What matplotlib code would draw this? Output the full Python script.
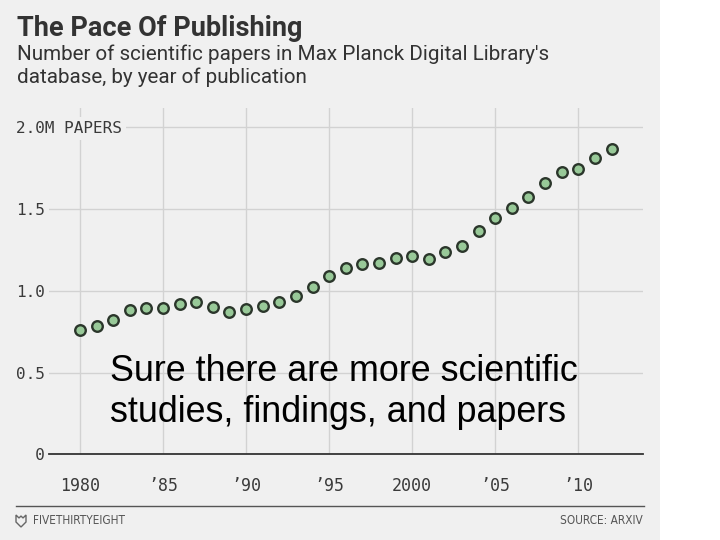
#!/usr/bin/env python3
"""Recreate the FiveThirtyEight 'The Pace Of Publishing' dot chart."""

import matplotlib
matplotlib.use("Agg")
import matplotlib.pyplot as plt
from matplotlib.patches import Rectangle, Polygon

W, H = 720, 540

# data: papers per year (millions)
years = list(range(1980, 2013))
papers_m = [0.762, 0.784, 0.819, 0.882, 0.898, 0.898, 0.918, 0.929, 0.904, 0.868,
            0.886, 0.906, 0.930, 0.969, 1.022, 1.089, 1.142, 1.166, 1.171, 1.199,
            1.215, 1.197, 1.240, 1.276, 1.363, 1.445, 1.506, 1.575, 1.662, 1.726,
            1.746, 1.815, 1.866]

x_ticks = [1980, 1985, 1990, 1995, 2000, 2005, 2010]
x_labels = ["1980", "\u201985", "\u201990", "\u201995", "2000", "\u201905", "\u201910"]
y_ticks = [0, 0.5, 1.0, 1.5, 2.0]
y_labels = ["  0", "0.5", "1.0", "1.5", "2.0M PAPERS"]

BG = "#f0f0f0"
TXT = "#3a3a3a"
GRID = "#d2d2d2"


def fx(px):
    return px / W


def fy(py):
    return 1 - py / H


fig = plt.figure(figsize=(7.2, 5.4), dpi=100, facecolor="white")
fig.patches.append(Rectangle((0, 0), fx(660), 1, transform=fig.transFigure,
                             facecolor=BG, edgecolor="none", zorder=-5))

ax = fig.add_axes([fx(49), fy(454.4), fx(643) - fx(49), fy(108) - fy(454.4)])
ax.set_facecolor(BG)
for s in ax.spines.values():
    s.set_visible(False)

ax.plot(years, papers_m, linestyle="none", marker="o", markersize=7.6,
        markerfacecolor="#98c998", markeredgecolor="#2b362b", markeredgewidth=1.7,
        zorder=4, clip_on=False)

ax.set_xlim(1978.134, 2013.895)
ax.set_ylim(0, 2.118)
ax.set_xticks(x_ticks)
ax.set_xticklabels(x_labels)
ax.set_yticks(y_ticks)
ax.set_yticklabels(y_labels)
ax.grid(True, color=GRID, linewidth=1.0)
ax.tick_params(length=0)
ax.tick_params(axis="x", pad=16, labelsize=12, labelcolor=TXT)
ax.tick_params(axis="y", pad=23.8, labelsize=11.5, labelcolor=TXT)
for lab in ax.get_xticklabels() + ax.get_yticklabels():
    lab.set_family("DejaVu Sans Mono")
for lab in ax.get_yticklabels():
    lab.set_horizontalalignment("left")
ax.get_yticklabels()[-1].set_bbox(dict(facecolor=BG, edgecolor="none", pad=3))
ax.axhline(0, color="#333333", linewidth=1.3, clip_on=False, zorder=3)

# title block
fig.text(fx(17), fy(36), "The Pace Of Publishing", family="Roboto", weight="bold",
         fontsize=19.5, color="#333333", va="baseline")
fig.text(fx(17), fy(59.5), "Number of scientific papers in Max Planck Digital Library's",
         family="Roboto", fontsize=14.9, color="#333333", va="baseline")
fig.text(fx(17), fy(83), "database, by year of publication",
         family="Roboto", fontsize=14.9, color="#333333", va="baseline")

# overlay caption
fig.text(fx(110), fy(380.7), "Sure there are more scientific",
         family="Liberation Sans", fontsize=25.8, color="black", va="baseline")
fig.text(fx(110), fy(421.7), "studies, findings, and papers",
         family="Liberation Sans", fontsize=25.8, color="black", va="baseline")

# footer
fig.add_artist(plt.Line2D([fx(16), fx(644)], [fy(505.7), fy(505.7)],
                          color="#555555", linewidth=1.0, transform=fig.transFigure))
logo = [(16, 515), (19, 518), (21, 516), (23, 518), (26, 515), (26, 522), (21, 527), (16, 522)]
fig.patches.append(Polygon([(fx(a), fy(b)) for a, b in logo], closed=True,
                           transform=fig.transFigure, facecolor="none",
                           edgecolor="#666666", linewidth=1.0))
fig.text(fx(33), fy(520.7), "FIVETHIRTYEIGHT", family="DejaVu Sans", stretch="condensed",
         fontsize=8.5, color="#555555", va="center")
fig.text(fx(643), fy(520.7), "SOURCE: ARXIV", family="DejaVu Sans", stretch="condensed",
         fontsize=8.5, color="#555555", va="center", ha="right")

fig.savefig("out.png", dpi=100, facecolor=fig.get_facecolor())
